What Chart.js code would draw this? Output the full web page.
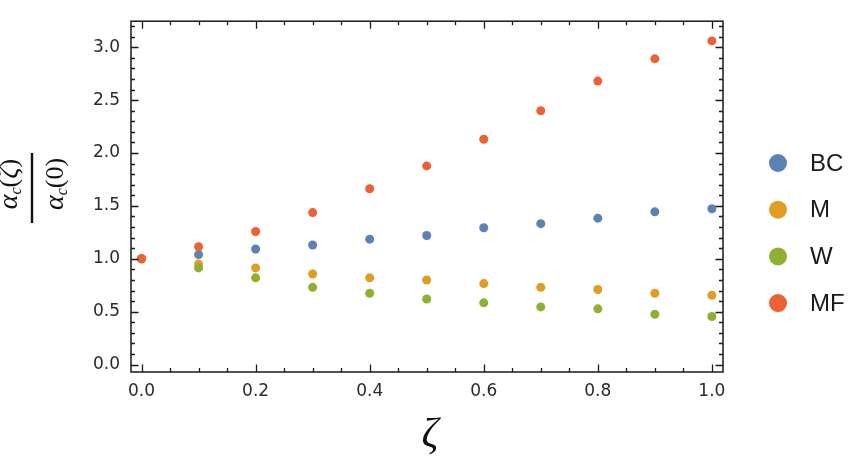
<!DOCTYPE html>
<html>
<head>
<meta charset="utf-8">
<script src="https://cdn.jsdelivr.net/npm/chart.js@4"></script>
<style>
  html, body { margin:0; padding:0; background:#fff; }
  canvas { display:block; }
</style>
</head>
<body>
<canvas id="c" width="861" height="466"></canvas>
<script>
// ---------- dados ----------
const zeta  = [0, 0.1, 0.2, 0.3, 0.4, 0.5, 0.6, 0.7, 0.8, 0.9, 1.0];
const bcVal = [1.0, 1.04, 1.093, 1.13, 1.186, 1.22, 1.294, 1.332, 1.384, 1.444, 1.473];
const mVal  = [1.0, 0.95, 0.914, 0.856, 0.82, 0.80, 0.766, 0.73, 0.71, 0.674, 0.656];
const wVal  = [1.0, 0.914, 0.82, 0.73, 0.674, 0.62, 0.584, 0.545, 0.527, 0.476, 0.455];
const mfVal = [1.0, 1.114, 1.258, 1.437, 1.662, 1.878, 2.13, 2.40, 2.68, 2.89, 3.06];

const seriesNames  = ['BC', 'M', 'W', 'MF'];
const seriesColors = ['#5E81B5', '#E19C24', '#8FB032', '#EB6235'];

const xTicks = [0, 0.2, 0.4, 0.6, 0.8, 1.0];
const yTicks = [0, 0.5, 1.0, 1.5, 2.0, 2.5, 3.0];

const X_MIN = -0.0185, X_MAX = 1.0195;
const Y_MIN = -0.07,   Y_MAX = 3.246;

const TICK_FONT = { family:'DejaVu Sans', size:17 };
const INK = '#1a1a1a';

// minor ticks (x a cada 0.05, y a cada 0.1)
const xMinor = [], yMinor = [];
for(let i=0;i<=20;i++) xMinor.push(+(i*0.05).toFixed(2));
for(let i=0;i<=32;i++) yMinor.push(+(i*0.1).toFixed(1));

const pts = (ys)=> zeta.map((x,i)=>({ x, y: ys[i] }));
const allSeries = [bcVal, mVal, wVal, mfVal];

// ---------- frame + ticks internos (estilo Mathematica) ----------
const framePlugin = {
  id:'frame',
  afterDraw(chart){
    const { ctx, chartArea:a, scales:{ x, y } } = chart;
    ctx.save();
    ctx.strokeStyle = INK;
    ctx.lineWidth = 1.5;
    ctx.strokeRect(a.left, a.top, a.right-a.left, a.bottom-a.top);
    ctx.lineWidth = 1.3;
    ctx.beginPath();
    const tickX = (v, len)=>{
      const px = Math.round(x.getPixelForValue(v)) + 0.5;
      ctx.moveTo(px, a.bottom); ctx.lineTo(px, a.bottom - len);
      ctx.moveTo(px, a.top);    ctx.lineTo(px, a.top + len);
    };
    const tickY = (v, len)=>{
      const py = Math.round(y.getPixelForValue(v)) + 0.5;
      ctx.moveTo(a.left, py);  ctx.lineTo(a.left + len, py);
      ctx.moveTo(a.right, py); ctx.lineTo(a.right - len, py);
    };
    xMinor.forEach(v=> tickX(v, xTicks.some(t=>Math.abs(t-v)<1e-6) ? 7.5 : 4));
    yMinor.forEach(v=> tickY(v, yTicks.some(t=>Math.abs(t-v)<1e-6) ? 7.5 : 4));
    ctx.stroke();
    ctx.restore();
  }
};

// ---------- rótulos dos eixos + legenda ----------
function drawRuns(ctx, runs, cx, baseY){
  let total = 0;
  runs.forEach(r=>{ ctx.font = r.font; r.w = ctx.measureText(r.t).width; total += r.w; });
  let px = cx - total/2;
  runs.forEach(r=>{
    ctx.font = r.font;
    ctx.fillText(r.t, px, baseY + (r.dy||0));
    px += r.w;
  });
}

const labelPlugin = {
  id:'labels',
  afterDraw(chart){
    const { ctx, chartArea:a } = chart;
    ctx.save();
    ctx.fillStyle = '#111';
    ctx.textBaseline = 'alphabetic';
    ctx.textAlign = 'left';

    // x: ζ
    ctx.font = 'italic 42px "Liberation Serif"';
    ctx.textAlign = 'center';
    ctx.fillText('ζ', (a.left + a.right)/2 + 3, 447);
    ctx.textAlign = 'left';

    // y: αc(ζ) / αc(0)  (girado)
    ctx.translate(32, 188);
    ctx.rotate(-Math.PI/2);
    ctx.fillRect(-35, -1.2, 70, 2.4);
    const it = 'italic 28px "Liberation Serif"';
    const rm = '26px "Liberation Serif"';
    const sub = 'italic 16px "Liberation Serif"';
    drawRuns(ctx, [
      { t:'α', font:it }, { t:'c', font:sub, dy:4 },
      { t:'(', font:rm }, { t:'ζ', font:it }, { t:')', font:rm }
    ], 4, -15);
    drawRuns(ctx, [
      { t:'α', font:it }, { t:'c', font:sub, dy:4 },
      { t:'(0)', font:rm }
    ], 4, 31);
    ctx.restore();

    // legenda
    ctx.save();
    const ly0 = 163, dy = 46.7;
    seriesNames.forEach((name, i)=>{
      const cy = ly0 + i*dy;
      ctx.fillStyle = seriesColors[i];
      ctx.beginPath(); ctx.arc(778, cy, 9, 0, Math.PI*2); ctx.fill();
      ctx.fillStyle = INK;
      ctx.font = '24px "Liberation Sans"';
      ctx.textBaseline = 'middle';
      ctx.fillText(name, 810, cy + 1);
    });
    ctx.restore();
  }
};

// ---------- gráfico ----------
new Chart(document.getElementById('c'), {
  type:'scatter',
  data:{
    datasets: allSeries.map((ys, i)=>({
      label: seriesNames[i],
      data: pts(ys),
      backgroundColor: seriesColors[i],
      borderWidth: 0,
      pointRadius: 4.5,
      order: 4 - i          // MF por cima
    }))
  },
  options:{
    responsive:false,
    animation:false,
    events:[],
    layout:{ padding:{ left:0, right:138, top:3, bottom:0 } },
    plugins:{ legend:{ display:false }, tooltip:{ enabled:false } },
    scales:{
      x:{
        type:'linear', min:X_MIN, max:X_MAX,
        grid:{ display:false, drawTicks:false }, border:{ display:false },
        afterBuildTicks: s => { s.ticks = xTicks.map(v=>({ value:v })); },
        afterFit: s => { s.height = 94; },
        ticks:{ padding:9, color:'#2a2a2a', font:TICK_FONT, maxRotation:0,
                callback: v => Number(v).toFixed(1) }
      },
      y:{
        type:'linear', min:Y_MIN, max:Y_MAX,
        grid:{ display:false, drawTicks:false }, border:{ display:false },
        afterBuildTicks: s => { s.ticks = yTicks.map(v=>({ value:v })); },
        afterFit: s => { s.width = 131; },
        ticks:{ padding:11, color:'#2a2a2a', font:TICK_FONT,
                callback: v => Number(v).toFixed(1) }
      }
    }
  },
  plugins:[framePlugin, labelPlugin]
});
</script>
</body>
</html>
